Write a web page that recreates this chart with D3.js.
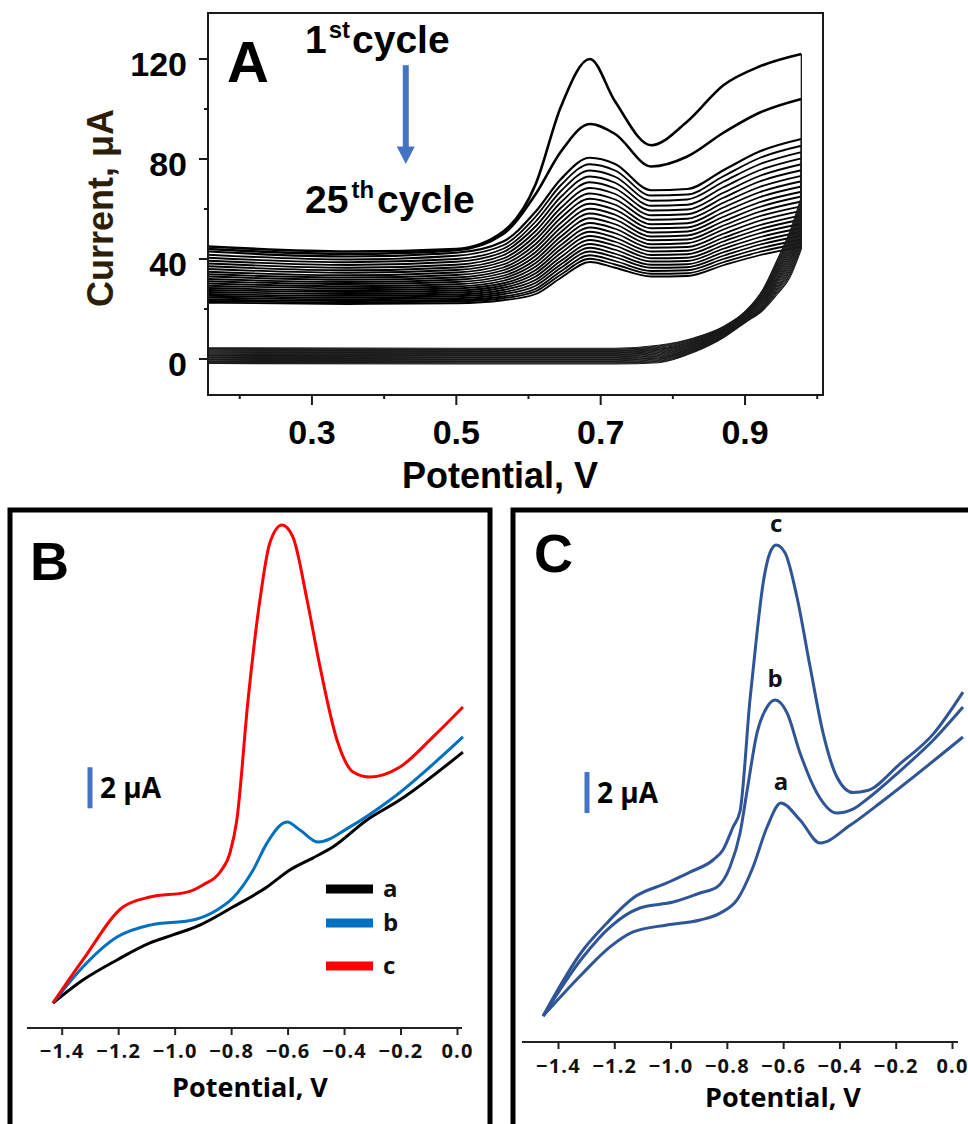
<!DOCTYPE html>
<html>
<head>
<meta charset="utf-8">
<script src="https://cdn.jsdelivr.net/npm/d3@7"></script>
<style>
  html, body { margin: 0; padding: 0; background: #fff; }
  svg { display: block; }
</style>
</head>
<body>
<script>
// ---------- panel A : 25 CV cycles ----------
var potA_fwd = [0.156, 0.35, 0.50, 0.565, 0.61, 0.645, 0.685, 0.72, 0.77, 0.82, 0.87, 0.92, 0.978];
var curA_fwd = [
  [45, 43, 44, 51, 70, 101, 120, 103, 85.5, 95, 109.5, 117, 122],
  [44, 42, 43.5, 50, 66, 83, 94, 90, 77, 81, 90.5, 98.5, 104],
  [43, 41, 42.5, 47, 59, 72, 80.5, 78, 67.5, 68, 75.5, 83, 88],
  [41.7, 39.8, 41.3, 45.5, 57.0, 69.6, 77.9, 75.4, 65.4, 65.8, 73.1, 80.4, 85.3],
  [40.5, 38.7, 40.0, 44.1, 55.0, 67.2, 75.4, 72.9, 63.3, 63.8, 70.9, 77.9, 82.8],
  [39.3, 37.6, 38.9, 42.8, 53.1, 64.9, 73.0, 70.5, 61.3, 61.7, 68.7, 75.5, 80.3],
  [38.2, 36.5, 37.7, 41.5, 51.2, 62.7, 70.7, 68.2, 59.4, 59.8, 66.5, 73.2, 77.9],
  [37.1, 35.5, 36.6, 40.2, 49.4, 60.5, 68.4, 66.0, 57.5, 57.9, 64.5, 71.0, 75.5],
  [36.0, 34.5, 35.6, 39.0, 47.7, 58.5, 66.2, 63.8, 55.7, 56.1, 62.5, 68.8, 73.3],
  [34.9, 33.5, 34.6, 37.8, 46.0, 56.5, 64.1, 61.7, 53.9, 54.3, 60.6, 66.7, 71.1],
  [33.9, 32.6, 33.6, 36.6, 44.4, 54.5, 62.1, 59.7, 52.3, 52.6, 58.7, 64.7, 69.0],
  [33.0, 31.7, 32.6, 35.5, 42.8, 52.6, 60.1, 57.7, 50.6, 51.0, 56.9, 62.7, 66.9],
  [32.0, 30.8, 31.7, 34.4, 41.3, 50.8, 58.2, 55.8, 49.0, 49.4, 55.1, 60.8, 65.0],
  [31.1, 30.0, 30.8, 33.3, 39.8, 49.0, 56.3, 53.9, 47.5, 47.8, 53.4, 58.9, 63.0],
  [30.2, 29.1, 29.9, 32.3, 38.4, 47.3, 54.4, 52.1, 45.9, 46.3, 51.8, 57.1, 61.1],
  [29.3, 28.3, 29.0, 31.3, 37.0, 45.6, 52.6, 50.3, 44.5, 44.8, 50.1, 55.3, 59.3],
  [28.4, 27.5, 28.2, 30.3, 35.6, 44.0, 50.9, 48.5, 43.0, 43.3, 48.5, 53.5, 57.5],
  [27.6, 26.8, 27.4, 29.4, 34.3, 42.4, 49.2, 46.9, 41.6, 41.9, 47.0, 51.9, 55.8],
  [26.8, 26.0, 26.6, 28.5, 33.0, 40.8, 47.6, 45.3, 40.3, 40.5, 45.5, 50.3, 54.1],
  [26.0, 25.3, 25.8, 27.6, 31.7, 39.3, 46.0, 43.7, 39.0, 39.2, 44.1, 48.7, 52.4],
  [25.3, 24.6, 25.1, 26.7, 30.5, 37.9, 44.5, 42.1, 37.7, 37.9, 42.7, 47.1, 50.9],
  [24.6, 23.9, 24.3, 25.9, 29.3, 36.5, 43.0, 40.7, 36.5, 36.7, 41.3, 45.7, 49.3],
  [23.8, 23.2, 23.6, 25.0, 28.1, 35.1, 41.5, 39.2, 35.2, 35.5, 40.0, 44.2, 47.8],
  [23.2, 22.6, 23.0, 24.3, 27.1, 33.8, 40.1, 37.8, 34.1, 34.3, 38.7, 42.8, 46.4],
  [22.5, 22.0, 22.3, 23.5, 26.0, 32.5, 38.8, 36.5, 33.0, 33.2, 37.5, 41.5, 45.0]
];
// return scans (listed low to high potential)
var potA_rev = [0.156, 0.50, 0.72, 0.78, 0.83, 0.87, 0.90, 0.925, 0.945, 0.962, 0.978];
var curA_rev = [
  [4.5, 4.3, 4.3, 5.5, 8.5, 13, 19, 28, 40, 51, 65],
  [4.2, 4.0, 4.0, 5.2, 8.3, 12.8, 18.8, 27.6, 39.4, 50.2, 64.1],
  [4.0, 3.8, 3.8, 4.9, 8.0, 12.6, 18.6, 27.3, 38.8, 49.5, 63.3],
  [3.7, 3.5, 3.5, 4.6, 7.8, 12.4, 18.4, 26.9, 38.3, 48.7, 62.4],
  [3.5, 3.3, 3.3, 4.3, 7.5, 12.3, 18.3, 26.6, 37.7, 47.9, 61.5],
  [3.2, 3.0, 3.0, 4.0, 7.3, 12.1, 18.1, 26.2, 37.1, 47.1, 60.6],
  [2.9, 2.7, 2.7, 3.8, 7.1, 11.9, 17.9, 25.9, 36.5, 46.4, 59.8],
  [2.7, 2.5, 2.5, 3.5, 6.8, 11.7, 17.7, 25.5, 35.9, 45.6, 58.9],
  [2.4, 2.2, 2.2, 3.2, 6.6, 11.5, 17.5, 25.2, 35.3, 44.8, 58.0],
  [2.1, 1.9, 1.9, 2.9, 6.4, 11.3, 17.3, 24.8, 34.8, 44.1, 57.1],
  [1.9, 1.7, 1.7, 2.6, 6.1, 11.1, 17.1, 24.5, 34.2, 43.3, 56.3],
  [1.6, 1.4, 1.4, 2.3, 5.9, 10.9, 16.9, 24.1, 33.6, 42.5, 55.4],
  [1.4, 1.2, 1.2, 2.0, 5.7, 10.8, 16.8, 23.8, 33.0, 41.8, 54.5],
  [1.1, 0.9, 0.9, 1.7, 5.4, 10.6, 16.6, 23.4, 32.4, 41.0, 53.6],
  [0.8, 0.6, 0.6, 1.4, 5.2, 10.4, 16.4, 23.0, 31.8, 40.2, 52.8],
  [0.6, 0.4, 0.4, 1.1, 4.9, 10.2, 16.2, 22.7, 31.3, 39.4, 51.9],
  [0.3, 0.1, 0.1, 0.8, 4.7, 10.0, 16.0, 22.3, 30.7, 38.7, 51.0],
  [0.0, -0.2, -0.2, 0.5, 4.5, 9.8, 15.8, 22.0, 30.1, 37.9, 50.1],
  [-0.2, -0.4, -0.4, 0.3, 4.2, 9.6, 15.6, 21.6, 29.5, 37.1, 49.3],
  [-0.5, -0.7, -0.7, 0.0, 4.0, 9.4, 15.4, 21.3, 28.9, 36.4, 48.4],
  [-0.8, -1.0, -1.0, -0.3, 3.8, 9.3, 15.3, 20.9, 28.3, 35.6, 47.5],
  [-1.0, -1.2, -1.2, -0.6, 3.5, 9.1, 15.1, 20.6, 27.8, 34.8, 46.6],
  [-1.3, -1.5, -1.5, -0.9, 3.3, 8.9, 14.9, 20.2, 27.2, 34.0, 45.8],
  [-1.5, -1.7, -1.7, -1.2, 3.0, 8.7, 14.7, 19.9, 26.6, 33.3, 44.9],
  [-1.8, -2.0, -2.0, -1.5, 2.8, 8.5, 14.5, 19.5, 26.0, 32.5, 44.0]
];
var ticksA_x = [0.3, 0.5, 0.7, 0.9];
var minorA_x = [0.2, 0.4, 0.6, 0.8, 1.0];
var ticksA_y = [0, 40, 80, 120];
var minorA_y = [20, 60, 100];

// ---------- panel B ----------
var potB_a = [-1.431, -1.325, -1.204, -1.087, -1.006, -0.911, -0.794, -0.673, -0.592, -0.511, -0.44, -0.319, -0.203, 0.021];
var curB_a = [0, 1.12, 2.1, 2.93, 3.32, 3.8, 4.68, 5.66, 6.49, 7.07, 7.61, 8.93, 9.9, 12.24];
var potB_b = [-1.431, -1.325, -1.204, -1.087, -0.935, -0.85, -0.794, -0.722, -0.673, -0.602, -0.556, -0.492, -0.379, -0.237, 0.021];
var curB_b = [0, 1.76, 3.22, 3.8, 4.05, 4.54, 5.12, 6.49, 7.8, 8.83, 8.44, 7.85, 8.59, 9.9, 12.98];
var potB_c = [-1.431, -1.325, -1.183, -1.087, -0.956, -0.9, -0.839, -0.804, -0.78, -0.74, -0.698, -0.663, -0.62, -0.581, -0.531, -0.485, -0.425, -0.368, -0.308, -0.202, -0.085, 0.021];
var curB_c = [0, 2.1, 4.68, 5.17, 5.41, 5.76, 6.39, 7.32, 8.9, 14.78, 19.66, 22.44, 23.32, 22.73, 19.66, 16.39, 12.83, 11.27, 11.02, 11.51, 12.98, 14.44];
var seriesB = ["a", "b", "c"];
var colorsB = ["#000000", "#0070c0", "#ff0000"];

// ---------- panel C ----------
var potC_a = [-1.453, -1.311, -1.215, -1.133, -1.013, -0.895, -0.824, -0.764, -0.707, -0.657, -0.608, -0.54, -0.469, -0.362, -0.245, 0.039];
var curC_a = [0, 2.1, 3.37, 4.1, 4.44, 4.68, 5.02, 5.66, 7.27, 9.22, 10.39, 9.56, 8.44, 9.3, 10.5, 13.61];
var potC_b = [-1.453, -1.311, -1.215, -1.109, -0.991, -0.895, -0.835, -0.789, -0.753, -0.728, -0.693, -0.657, -0.629, -0.586, -0.54, -0.48, -0.409, -0.35, -0.30, -0.185, -0.067, 0.039];
var curC_b = [0, 2.88, 4.34, 5.27, 5.56, 6.0, 6.29, 7.27, 8.93, 11.0, 13.8, 15.07, 15.41, 14.78, 12.83, 10.88, 9.9, 10.1, 10.6, 11.95, 13.45, 15.07];
var potC_c = [-1.453, -1.311, -1.226, -1.133, -1.013, -0.931, -0.849, -0.814, -0.778, -0.753, -0.718, -0.693, -0.671, -0.647, -0.625, -0.593, -0.551, -0.504, -0.458, -0.409, -0.352, -0.30, -0.185, -0.067, 0.039];
var curC_c = [0, 3.22, 4.54, 5.76, 6.49, 7.02, 7.61, 8.1, 9.22, 10.0, 15.41, 18.68, 21.12, 22.59, 22.98, 22.59, 20.44, 17.02, 13.8, 11.66, 10.9, 11.0, 12.3, 13.75, 15.8];
var seriesC = ["a", "b", "c"];
var ticksBC = [-1.4, -1.2, -1.0, -0.8, -0.6, -0.4, -0.2, 0.0];

var svg = d3.select("body").append("svg").attr("width", 968).attr("height", 1124);

function zip(xs, ys){
  var out = [];
  for(var i = 0; i < xs.length; i++) out.push([xs[i], ys[i]]);
  return out;
}

// ================= PANEL A =================
var xA = d3.scaleLinear().domain([0.156, 1.008]).range([208, 823]);
var yA = d3.scaleLinear().domain([-14.4, 138.4]).range([395, 13]);
var lineA = d3.line().x(function(d){return xA(d[0]);}).y(function(d){return yA(d[1]);}).curve(d3.curveMonotoneX);
var straightA = d3.line().x(function(d){return xA(d[0]);}).y(function(d){return yA(d[1]);});

svg.append("clipPath").attr("id", "clipA").append("rect")
  .attr("x", 208).attr("y", 13).attr("width", 615).attr("height", 382);
var gA = svg.append("g").attr("clip-path", "url(#clipA)");

for(var k = curA_fwd.length - 1; k >= 0; k--){
  var w = k < 2 ? 2.6 : (k == 2 ? 2.2 : 1.8);
  var fwd = zip(potA_fwd, curA_fwd[k]);
  var rev = zip(potA_rev, curA_rev[k]);
  gA.append("path").attr("d", lineA(rev)).attr("fill", "none").attr("stroke", "#1a1a1a").attr("stroke-width", 1.1);
  gA.append("path").attr("d", straightA([fwd[fwd.length - 1], rev[rev.length - 1]]))
    .attr("fill", "none").attr("stroke", "#1a1a1a").attr("stroke-width", 1.3);
  gA.append("path").attr("d", lineA(fwd)).attr("fill", "none").attr("stroke", "#000").attr("stroke-width", w);
}

// frame + ticks
svg.append("rect").attr("x", 208).attr("y", 13).attr("width", 615).attr("height", 382)
  .attr("fill", "none").attr("stroke", "#1a1a1a").attr("stroke-width", 2);

var axA = svg.append("g").attr("stroke", "#1a1a1a").attr("stroke-width", 2);
ticksA_y.forEach(function(v){
  axA.append("line").attr("x1", 199).attr("x2", 208).attr("y1", yA(v)).attr("y2", yA(v));
});
minorA_y.forEach(function(v){
  axA.append("line").attr("x1", 204).attr("x2", 208).attr("y1", yA(v)).attr("y2", yA(v));
});
ticksA_x.forEach(function(v){
  axA.append("line").attr("x1", xA(v)).attr("x2", xA(v)).attr("y1", 395).attr("y2", 405);
});
minorA_x.forEach(function(v){
  if(xA(v) > 208 && xA(v) < 823)
    axA.append("line").attr("x1", xA(v)).attr("x2", xA(v)).attr("y1", 395).attr("y2", 399);
});

var fontA = "'Liberation Sans', Arial, sans-serif";
svg.selectAll(".ylabA").data(ticksA_y).enter().append("text")
  .attr("x", 187).attr("y", function(d){return yA(d) + 17;})
  .attr("text-anchor", "end").attr("font-family", fontA).attr("font-weight", "bold")
  .attr("font-size", 34).attr("fill", "#000").text(function(d){return d;});
svg.selectAll(".xlabA").data(ticksA_x).enter().append("text")
  .attr("x", function(d){return xA(d);}).attr("y", 444)
  .attr("text-anchor", "middle").attr("font-family", fontA).attr("font-weight", "bold")
  .attr("font-size", 34).attr("fill", "#000").text(function(d){return d3.format(".1f")(d);});

svg.append("text").attr("transform", "translate(113,208) rotate(-90)")
  .attr("text-anchor", "middle").attr("font-family", fontA).attr("font-weight", "bold")
  .attr("font-size", 36).attr("fill", "#2e1e08").text("Current, \u03bcA");
svg.append("text").attr("x", 500).attr("y", 488)
  .attr("text-anchor", "middle").attr("font-family", fontA).attr("font-weight", "bold")
  .attr("font-size", 36).attr("fill", "#000").text("Potential, V");

svg.append("text").attr("x", 227).attr("y", 82).attr("font-family", fontA).attr("font-weight", "bold")
  .attr("font-size", 58).attr("fill", "#000").text("A");

var t1 = svg.append("text").attr("x", 305).attr("y", 53).attr("font-family", fontA)
  .attr("font-weight", "bold").attr("font-size", 39).attr("fill", "#000");
t1.append("tspan").text("1");
t1.append("tspan").attr("font-size", 24).attr("dy", -15).attr("dx", 2).text("st");
t1.append("tspan").attr("dy", 15).attr("dx", 2).text("cycle");

var t2 = svg.append("text").attr("x", 305).attr("y", 213).attr("font-family", fontA)
  .attr("font-weight", "bold").attr("font-size", 39).attr("fill", "#000");
t2.append("tspan").text("25");
t2.append("tspan").attr("font-size", 24).attr("dy", -15).attr("dx", 3).text("th");
t2.append("tspan").attr("dy", 15).attr("dx", 3).text("cycle");

// arrow 1st -> 25th
var arrowX = xA(0.43);
svg.append("line").attr("x1", arrowX).attr("x2", arrowX).attr("y1", yA(117.5)).attr("y2", yA(84))
  .attr("stroke", "#4472c4").attr("stroke-width", 6);
svg.append("path")
  .attr("d", "M" + (arrowX - 9) + "," + yA(85) + "L" + (arrowX + 9) + "," + yA(85) + "L" + arrowX + "," + yA(78) + "Z")
  .attr("fill", "#4472c4");

// ================= PANELS B & C =================
var fontBC = "'Open Sans', 'Noto Sans', sans-serif";

function drawPanel(opt){
  svg.append("rect").attr("x", opt.box[0]).attr("y", opt.box[1]).attr("width", opt.box[2]).attr("height", opt.box[3])
    .attr("fill", "none").attr("stroke", "#000").attr("stroke-width", 5);

  var x = d3.scaleLinear().domain([-1.4, 0]).range(opt.xr);
  var y = d3.scaleLinear().domain([0, 10]).range(opt.yr);

  var ax = svg.append("g").attr("transform", "translate(0," + opt.axisY + ")")
    .call(d3.axisBottom(x).tickValues(ticksBC).tickSize(7).tickSizeOuter(0).tickFormat(d3.format(".1f")));
  ax.select(".domain").attr("stroke", "#222").attr("stroke-width", 2)
    .attr("d", "M" + opt.axisX[0] + ",0H" + opt.axisX[1]);
  ax.selectAll(".tick line").attr("stroke", "#222").attr("stroke-width", 2);
  ax.selectAll(".tick text").attr("font-family", fontBC).attr("font-weight", "bold")
    .attr("font-size", 20).attr("letter-spacing", 1.2).attr("fill", "#111").attr("y", opt.tickDy).attr("dy", 0);

  svg.append("text").attr("x", opt.titleX).attr("y", opt.titleY).attr("text-anchor", "middle")
    .attr("font-family", fontBC).attr("font-weight", "bold").attr("font-size", 27).attr("fill", "#000")
    .text("Potential, V");

  svg.append("text").attr("x", opt.letter[0]).attr("y", opt.letter[1]).attr("font-family", fontA)
    .attr("font-weight", "bold").attr("font-size", 54).attr("fill", "#000").text(opt.letter[2]);

  // 2 uA scale bar
  svg.append("line").attr("x1", opt.bar[0]).attr("x2", opt.bar[0])
    .attr("y1", y(opt.bar[1])).attr("y2", y(opt.bar[1] + 2))
    .attr("stroke", "#4472c4").attr("stroke-width", 5);
  svg.append("text").attr("x", opt.bar[0] + 10).attr("y", y(opt.bar[1]) - 10)
    .attr("font-family", fontBC).attr("font-weight", "bold").attr("font-size", 28).attr("fill", "#000")
    .text("2 \u03bcA");

  var line = d3.line().x(function(d){return x(d[0]);}).y(function(d){return y(d[1]);}).curve(d3.curveMonotoneX);
  opt.series.forEach(function(s){
    svg.append("path").attr("d", line(zip(s.pot, s.cur))).attr("fill", "none")
      .attr("stroke", s.color).attr("stroke-width", 3).attr("stroke-linejoin", "round");
  });
  return {x: x, y: y};
}

var sb = drawPanel({
  box: [10, 510, 480, 625], xr: [61.7, 457], yr: [1003, 798], axisY: 1028, axisX: [27, 462], tickDy: 30,
  titleX: 250, titleY: 1097, letter: [30, 580, "B"], bar: [90, 9.5],
  series: [
    {pot: potB_a, cur: curB_a, color: colorsB[0]},
    {pot: potB_b, cur: curB_b, color: colorsB[1]},
    {pot: potB_c, cur: curB_c, color: colorsB[2]}
  ]
});

// legend B
var legY = [889, 923, 966];
seriesB.forEach(function(name, i){
  svg.append("line").attr("x1", 326).attr("x2", 373).attr("y1", legY[i]).attr("y2", legY[i])
    .attr("stroke", colorsB[i]).attr("stroke-width", 9);
  svg.append("text").attr("x", 383).attr("y", legY[i] + 8).attr("font-family", fontBC)
    .attr("font-weight", "bold").attr("font-size", 24).attr("fill", "#111").text(name);
});

var blueC = "#2f5597";
var sc = drawPanel({
  box: [513, 510, 470, 625], xr: [558, 952], yr: [1016, 811], axisY: 1042, axisX: [522, 958], tickDy: 31,
  titleX: 783, titleY: 1107, letter: [534, 572, "C"], bar: [587, 9.9],
  series: [
    {pot: potC_a, cur: curC_a, color: blueC},
    {pot: potC_b, cur: curC_b, color: blueC},
    {pot: potC_c, cur: curC_c, color: blueC}
  ]
});

// peak labels in C (label sits above the oxidation peak, searched between -0.8 and -0.5 V)
var peakC = [[potC_a, curC_a], [potC_b, curC_b], [potC_c, curC_c]];
seriesC.forEach(function(name, i){
  var pot = peakC[i][0], cur = peakC[i][1];
  var j = -1;
  for(var n = 0; n < cur.length; n++){
    if(pot[n] > -0.8 && pot[n] < -0.5 && (j < 0 || cur[n] > cur[j])) j = n;
  }
  svg.append("text").attr("x", sc.x(pot[j])).attr("y", sc.y(cur[j]) - 13)
    .attr("text-anchor", "middle").attr("font-family", fontBC).attr("font-weight", "bold")
    .attr("font-size", 24).attr("fill", "#111").text(name);
});
</script>
</body>
</html>
